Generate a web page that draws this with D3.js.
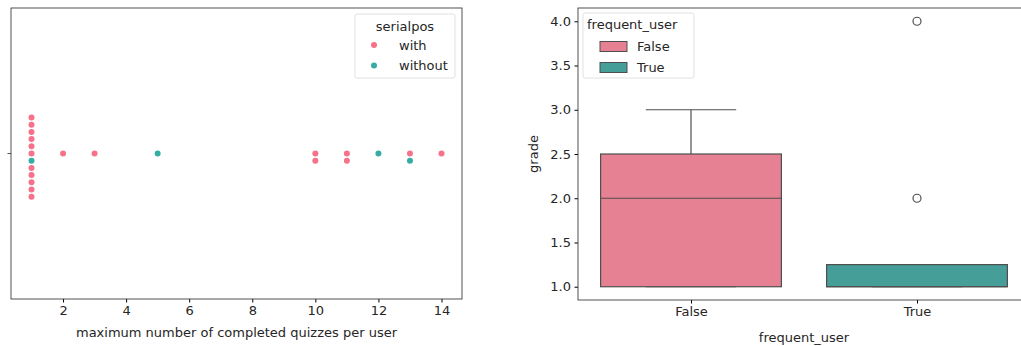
<!DOCTYPE html>
<html lang="en">
<head>
    <meta charset="UTF-8"/>
    <title>quizzes and grades</title>
    <script src="https://d3js.org/d3.v7.min.js"></script>
    <style>
        body { margin: 0; background: #fff; }
        text { font-family: "DejaVu Sans", sans-serif; fill: #262626; }
    </style>
</head>
<body>
<svg id="chart" width="1021" height="346"></svg>

<script>
    // left panel: swarm of completed quizzes per user, in plotting order
    const quizValues = [1, 1, 1, 1, 1, 1, 1, 1, 1, 1, 1, 1, 2, 3, 5, 10, 10, 11, 11, 12, 13, 13, 14];
    const quizSerial = ["with", "without", "with", "with", "with", "with", "with", "with", "with", "with", "with", "with",
        "with", "with", "without", "with", "with", "with", "with", "without", "with", "without", "with"];
    const serialLevels = ["with", "without"];
    const xTicksLeft = [2, 4, 6, 8, 10, 12, 14];

    // right panel: grade by frequent_user (box stats)
    const userGroups = ["False", "True"];
    const boxQ1 = [1.0, 1.0];
    const boxMedian = [2.0, 1.0];
    const boxQ3 = [2.5, 1.25];
    const whiskLow = [1.0, 1.0];
    const whiskHigh = [3.0, 1.25];
    const outliers = [[], [2.0, 4.0]];
    const yTicksRight = [1.0, 1.5, 2.0, 2.5, 3.0, 3.5, 4.0];

    const dotColors = ["#f77189", "#36ada4"];
    const boxColors = ["#e68193", "#459e97"];
    const lineGray = "#4f4f4f";
    const fs = "13px";

    const svg = d3.select("#chart");

    // ---------- left panel ----------
    const L = {left: 11, right: 462, top: 8, bottom: 299};
    const xL = d3.scaleLinear().domain([0.35, 14.65]).range([L.left, L.right]);
    const yMid = (L.top + L.bottom) / 2;
    const gap = 7.2;

    // simple swarm: stack repeats of a value alternately below/above centre
    const seen = {};
    const dots = quizValues.map((v, i) => {
        const k = seen[v] || 0;
        seen[v] = k + 1;
        const step = Math.ceil(k / 2) * (k % 2 === 1 ? 1 : -1);
        return {v: v, s: quizSerial[i], off: step};
    });

    const left = svg.append("g");

    left.append("g")
        .attr("transform", `translate(0, ${L.bottom})`)
        .call(d3.axisBottom(xL).tickValues(xTicksLeft).tickSize(3.5).tickPadding(3.5))
        .call(g => g.select(".domain").remove())
        .call(g => g.selectAll("text").style("font-size", fs));

    // single unlabeled y tick
    left.append("line")
        .attr("x1", L.left - 3.5).attr("x2", L.left)
        .attr("y1", yMid).attr("y2", yMid)
        .attr("stroke", "#262626").attr("stroke-width", 0.8);

    left.append("g")
        .selectAll("circle")
        .data(dots)
        .join("circle")
        .attr("cx", d => xL(d.v))
        .attr("cy", d => yMid + d.off * gap)
        .attr("r", 3)
        .attr("fill", d => dotColors[serialLevels.indexOf(d.s)]);

    left.append("rect")
        .attr("x", L.left).attr("y", L.top)
        .attr("width", L.right - L.left).attr("height", L.bottom - L.top)
        .attr("fill", "none").attr("stroke", "#262626").attr("stroke-width", 0.8);

    left.append("text")
        .attr("x", (L.left + L.right) / 2).attr("y", 337)
        .attr("text-anchor", "middle")
        .style("font-size", fs)
        .text("maximum number of completed quizzes per user");

    // legend
    const legL = left.append("g").attr("transform", "translate(355, 14)");
    legL.append("rect")
        .attr("width", 100).attr("height", 64).attr("rx", 2)
        .attr("fill", "#fff").attr("fill-opacity", 0.8)
        .attr("stroke", "#d9d9d9").attr("stroke-width", 0.8);
    legL.append("text")
        .attr("x", 50).attr("y", 17).attr("text-anchor", "middle")
        .style("font-size", fs).text("serialpos");
    serialLevels.forEach((s, i) => {
        legL.append("circle")
            .attr("cx", 19).attr("cy", 31 + i * 20.5).attr("r", 3)
            .attr("fill", dotColors[i]);
        legL.append("text")
            .attr("x", 44).attr("y", 35.5 + i * 20.5)
            .style("font-size", fs).text(s);
    });

    // ---------- right panel ----------
    const R = {left: 578, right: 1030, top: 8, bottom: 300};
    const xR = d3.scaleLinear().domain([-0.5, 1.5]).range([R.left, R.right]);
    const yR = d3.scaleLinear().domain([0.85, 4.15]).range([R.bottom, R.top]);
    const boxW = 0.8;

    const right = svg.append("g");

    right.append("g")
        .attr("transform", `translate(${R.left}, 0)`)
        .call(d3.axisLeft(yR).tickValues(yTicksRight).tickFormat(d3.format(".1f")).tickSize(3.5).tickPadding(3.5))
        .call(g => g.select(".domain").remove())
        .call(g => g.selectAll("text").style("font-size", fs));

    right.append("g")
        .attr("transform", `translate(0, ${R.bottom})`)
        .call(d3.axisBottom(xR).tickValues([0, 1]).tickFormat(i => userGroups[i]).tickSize(3.5).tickPadding(3.5))
        .call(g => g.select(".domain").remove())
        .call(g => g.selectAll("text").style("font-size", fs));

    const boxes = right.append("g")
        .selectAll("g")
        .data(userGroups)
        .join("g");

    // whiskers, caps, box, median, fliers
    boxes.each(function (name, i) {
        const g = d3.select(this);
        const cx = xR(i);
        [[boxQ3[i], whiskHigh[i]], [boxQ1[i], whiskLow[i]]].forEach(([a, b]) => {
            g.append("line")
                .attr("x1", cx).attr("x2", cx)
                .attr("y1", yR(a)).attr("y2", yR(b))
                .attr("stroke", lineGray).attr("stroke-width", 1.2);
            g.append("line")
                .attr("x1", xR(i - boxW / 4)).attr("x2", xR(i + boxW / 4))
                .attr("y1", yR(b)).attr("y2", yR(b))
                .attr("stroke", lineGray).attr("stroke-width", 1.2);
        });
        g.append("rect")
            .attr("x", xR(i - boxW / 2))
            .attr("width", xR(i + boxW / 2) - xR(i - boxW / 2))
            .attr("y", yR(boxQ3[i]))
            .attr("height", yR(boxQ1[i]) - yR(boxQ3[i]))
            .attr("fill", boxColors[i])
            .attr("stroke", lineGray).attr("stroke-width", 1.2);
        g.append("line")
            .attr("x1", xR(i - boxW / 2)).attr("x2", xR(i + boxW / 2))
            .attr("y1", yR(boxMedian[i])).attr("y2", yR(boxMedian[i]))
            .attr("stroke", lineGray).attr("stroke-width", 1.2);
        g.selectAll("circle.out")
            .data(outliers[i])
            .join("circle")
            .attr("class", "out")
            .attr("cx", cx)
            .attr("cy", d => yR(d))
            .attr("r", 4)
            .attr("fill", "none")
            .attr("stroke", lineGray).attr("stroke-width", 1.2);
    });

    right.append("rect")
        .attr("x", R.left).attr("y", R.top)
        .attr("width", R.right - R.left).attr("height", R.bottom - R.top)
        .attr("fill", "none").attr("stroke", "#262626").attr("stroke-width", 0.8);

    right.append("text")
        .attr("x", (R.left + R.right) / 2).attr("y", 342)
        .attr("text-anchor", "middle")
        .style("font-size", fs)
        .text("frequent_user");

    right.append("text")
        .attr("transform", `translate(538, ${(R.top + R.bottom) / 2}) rotate(-90)`)
        .attr("text-anchor", "middle")
        .style("font-size", fs)
        .text("grade");

    // legend
    const legR = right.append("g").attr("transform", "translate(583, 13)");
    legR.append("rect")
        .attr("width", 111).attr("height", 65).attr("rx", 2)
        .attr("fill", "#fff").attr("fill-opacity", 0.8)
        .attr("stroke", "#d9d9d9").attr("stroke-width", 0.8);
    legR.append("text")
        .attr("x", 4).attr("y", 16)
        .style("font-size", fs).text("frequent_user");
    userGroups.forEach((s, i) => {
        legR.append("rect")
            .attr("x", 17).attr("y", 28.5 + i * 21).attr("width", 27).attr("height", 10)
            .attr("fill", boxColors[i])
            .attr("stroke", lineGray).attr("stroke-width", 1);
        legR.append("text")
            .attr("x", 54).attr("y", 38 + i * 21)
            .style("font-size", fs).text(s);
    });
</script>
</body>
</html>
